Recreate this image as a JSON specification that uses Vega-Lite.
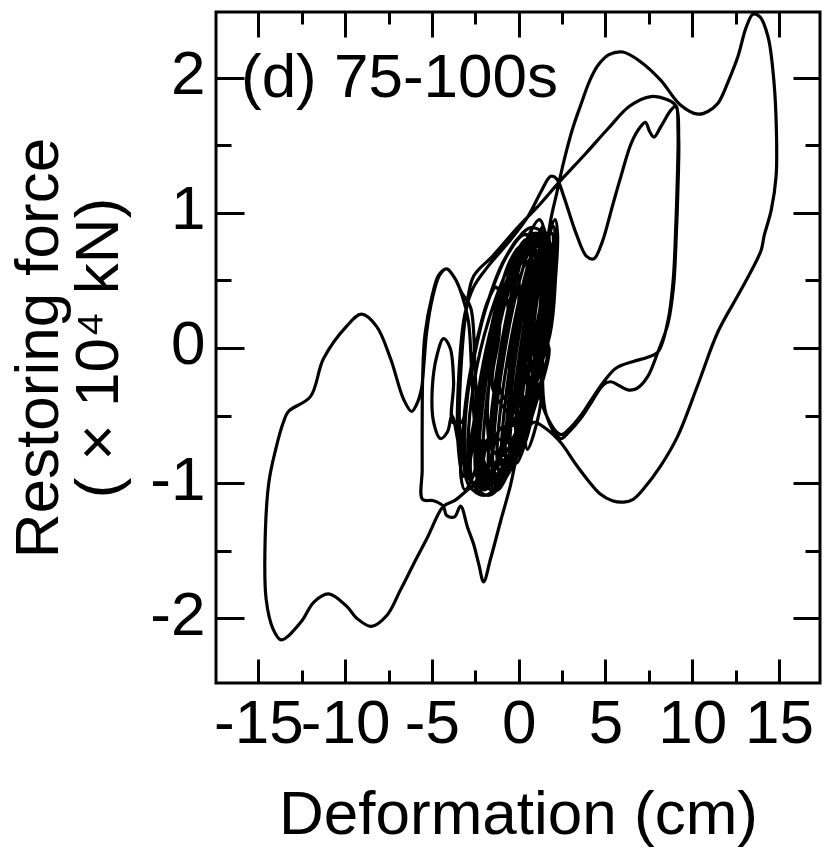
{
  "$schema": "https://vega.github.io/schema/vega-lite/v6.json",
  "width": 604,
  "height": 671,
  "autosize": {"type": "none"},
  "padding": {"left": 216, "top": 12, "right": 7, "bottom": 173},
  "background": "white",
  "config": {
    "view": {"stroke": "black", "strokeWidth": 3},
    "axis": {
      "grid": false, "domain": false, "tickColor": "black", "tickWidth": 3,
      "labelFont": "Liberation Sans", "labelFontSize": 62, "labelColor": "black",
      "titleFont": "Liberation Sans", "titleFontSize": 62, "titleFontWeight": "normal", "titleColor": "black",
      "labelOverlap": false, "labelFlush": false, "labelExpr": "'' + datum.value"
    }
  },
  "data": {
    "values": [
      {"x":1.1,"y":0},{"x":1.53,"y":0.43},{"x":1.72,"y":0.74},{"x":1.6,"y":0.85},{"x":1.22,"y":0.74},{"x":0.67,"y":0.43},{"x":0.1,"y":0},{"x":-0.33,"y":-0.43},{"x":-0.52,"y":-0.74},{"x":-0.4,"y":-0.85},{"x":-0.02,"y":-0.74},{"x":0.53,"y":-0.43},
      {"x":-0.5,"y":-0.2},{"x":-0.09,"y":0.2},{"x":0.02,"y":0.49},{"x":-0.2,"y":0.6},{"x":-0.68,"y":0.49},{"x":-1.31,"y":0.2},{"x":-1.9,"y":-0.2},{"x":-2.31,"y":-0.6},{"x":-2.42,"y":-0.89},{"x":-2.2,"y":-1.0},{"x":-1.72,"y":-0.89},{"x":-1.09,"y":-0.6},{"x":0.0,"y":-0.55},
      {"x":1.0,"y":-0.05},{"x":1.46,"y":0.4},{"x":1.6,"y":0.73},{"x":1.4,"y":0.85},{"x":0.9,"y":0.73},{"x":0.24,"y":0.4},{"x":-0.4,"y":-0.05},{"x":-0.86,"y":-0.5},{"x":-1.0,"y":-0.83},{"x":-0.8,"y":-0.95},{"x":-0.3,"y":-0.83},{"x":0.36,"y":-0.5},
      {"x":0.9,"y":-0.1},{"x":1.38,"y":0.38},{"x":1.49,"y":0.72},{"x":1.2,"y":0.85},{"x":0.59,"y":0.72},{"x":-0.18,"y":0.38},{"x":-0.9,"y":-0.1},{"x":-1.38,"y":-0.58},{"x":-1.49,"y":-0.92},{"x":-1.2,"y":-1.05},{"x":-0.59,"y":-0.92},{"x":0.18,"y":-0.58},
      {"x":-1.1,"y":-0.3},{"x":-0.73,"y":0.05},{"x":-0.62,"y":0.31},{"x":-0.8,"y":0.4},{"x":-1.22,"y":0.31},{"x":-1.77,"y":0.05},{"x":-2.3,"y":-0.3},{"x":-2.67,"y":-0.65},{"x":-2.78,"y":-0.91},{"x":-2.6,"y":-1.0},{"x":-2.18,"y":-0.91},{"x":-1.63,"y":-0.65},{"x":-0.6,"y":-0.7},{"x":0.5,"y":-0.35},
      {"x":1.2,"y":0.05},{"x":1.6,"y":0.45},{"x":1.78,"y":0.74},{"x":1.7,"y":0.85},{"x":1.38,"y":0.74},{"x":0.9,"y":0.45},{"x":0.4,"y":0.05},{"x":0.0,"y":-0.35},{"x":-0.18,"y":-0.64},{"x":-0.1,"y":-0.75},{"x":0.22,"y":-0.64},{"x":0.7,"y":-0.35},
      {"x":1.6,"y":0.41},{"x":1.33,"y":0.68},{"x":0.6,"y":0.74},{"x":-0.4,"y":0.58},{"x":-1.4,"y":0.23},{"x":-2.13,"y":-0.2},{"x":-2.4,"y":-0.61},{"x":-2.13,"y":-0.88},{"x":-1.4,"y":-0.94},{"x":-0.4,"y":-0.78},{"x":0.6,"y":-0.43},{"x":1.33,"y":0.0},
      {"x":1.6,"y":0.4},{"x":1.1,"y":0.75},{"x":0.0,"y":0.6},{"x":-1.3,"y":0.1},{"x":-2.5,"y":-0.5},{"x":-3.2,"y":-0.95},{"x":-3.5,"y":-0.7},{"x":-3.45,"y":-0.2},{"x":-3.1,"y":0.25},{"x":-2.6,"y":0.45},{"x":-1.79,"y":0.6},{"x":-0.6,"y":0.78},{"x":0.52,"y":0.97},{"x":1.3,"y":1.16},{"x":1.85,"y":1.27},{"x":2.2,"y":1.25},{"x":2.6,"y":1.12},{"x":3.3,"y":0.85},{"x":3.9,"y":0.68},{"x":4.33,"y":0.66},{"x":4.8,"y":0.78},{"x":5.4,"y":1.05},{"x":5.89,"y":1.27},{"x":6.5,"y":1.52},{"x":7.04,"y":1.64},{"x":7.3,"y":1.67},{"x":7.55,"y":1.6},{"x":7.79,"y":1.56},{"x":8.2,"y":1.64},{"x":8.77,"y":1.76},{"x":9.06,"y":1.79},{"x":9.18,"y":1.6},{"x":9.15,"y":1.3},{"x":9.05,"y":0.9},{"x":8.9,"y":0.5},{"x":8.6,"y":0.2},{"x":8.02,"y":-0.03},{"x":7.4,"y":-0.07},{"x":6.6,"y":-0.1},{"x":5.6,"y":-0.15},{"x":4.9,"y":-0.25},{"x":4.2,"y":-0.38},{"x":3.58,"y":-0.5},{"x":2.9,"y":-0.6},{"x":2.42,"y":-0.64},{"x":1.6,"y":-0.5},
      {"x":0.9,"y":-0.1},{"x":1.39,"y":0.38},{"x":1.43,"y":0.72},{"x":1.0,"y":0.85},{"x":0.23,"y":0.72},{"x":-0.69,"y":0.38},{"x":-1.5,"y":-0.1},{"x":-1.99,"y":-0.58},{"x":-2.03,"y":-0.92},{"x":-1.6,"y":-1.05},{"x":-0.83,"y":-0.92},{"x":0.09,"y":-0.58},
      {"x":0.1,"y":-0.1},{"x":0.58,"y":0.35},{"x":0.69,"y":0.68},{"x":0.4,"y":0.8},{"x":-0.21,"y":0.68},{"x":-0.98,"y":0.35},{"x":-1.7,"y":-0.1},{"x":-2.18,"y":-0.55},{"x":-2.29,"y":-0.88},{"x":-2.0,"y":-1.0},{"x":-1.39,"y":-0.88},{"x":-0.62,"y":-0.55},
      {"x":1.1,"y":0},{"x":1.47,"y":0.38},{"x":1.58,"y":0.65},{"x":1.4,"y":0.75},{"x":0.98,"y":0.65},{"x":0.43,"y":0.38},{"x":-0.1,"y":0},{"x":-0.47,"y":-0.38},{"x":-0.58,"y":-0.65},{"x":-0.4,"y":-0.75},{"x":0.02,"y":-0.65},{"x":0.57,"y":-0.38},
      {"x":1.9,"y":0.42},{"x":1.58,"y":0.72},{"x":0.7,"y":0.79},{"x":-0.5,"y":0.61},{"x":-1.7,"y":0.22},{"x":-2.58,"y":-0.26},{"x":-2.9,"y":-0.72},{"x":-2.58,"y":-1.02},{"x":-1.7,"y":-1.09},{"x":-0.5,"y":-0.91},{"x":0.7,"y":-0.52},{"x":1.58,"y":-0.04},
      {"x":0.7,"y":-0.15},{"x":1.23,"y":0.3},{"x":1.26,"y":0.63},{"x":0.8,"y":0.75},{"x":-0.04,"y":0.63},{"x":-1.03,"y":0.3},{"x":-1.9,"y":-0.15},{"x":-2.43,"y":-0.6},{"x":-2.46,"y":-0.93},{"x":-2.0,"y":-1.05},{"x":-1.16,"y":-0.93},{"x":-0.17,"y":-0.6},
      {"x":-1.5,"y":-0.3},{"x":-1.14,"y":0.08},{"x":-1.07,"y":0.35},{"x":-1.3,"y":0.45},{"x":-1.77,"y":0.35},{"x":-2.36,"y":0.08},{"x":-2.9,"y":-0.3},{"x":-3.26,"y":-0.68},{"x":-3.33,"y":-0.95},{"x":-3.1,"y":-1.05},{"x":-2.63,"y":-0.95},{"x":-2.04,"y":-0.68},{"x":-1.2,"y":-0.95},{"x":0.2,"y":-0.65},{"x":1.3,"y":-0.1},
      {"x":2.0,"y":0.45},{"x":1.3,"y":0.8},{"x":0.2,"y":0.75},{"x":-1.0,"y":0.3},{"x":-2.2,"y":-0.4},{"x":-3.0,"y":-0.9},{"x":-3.4,"y":-0.6},{"x":-3.3,"y":-0.1},{"x":-3.0,"y":0.3},{"x":-2.6,"y":0.53},{"x":-1.5,"y":0.68},{"x":0.0,"y":0.9},{"x":1.2,"y":1.06},{"x":2.42,"y":1.24},{"x":3.8,"y":1.43},{"x":5.13,"y":1.62},{"x":6.4,"y":1.79},{"x":7.62,"y":1.86},{"x":8.5,"y":1.84},{"x":9.06,"y":1.79},{"x":9.22,"y":1.55},{"x":9.18,"y":1.2},{"x":9.07,"y":0.8},{"x":8.92,"y":0.45},{"x":8.6,"y":0.18},{"x":8.02,"y":-0.03},{"x":7.44,"y":-0.21},{"x":6.8,"y":-0.3},{"x":6.29,"y":-0.31},{"x":5.8,"y":-0.28},{"x":5.31,"y":-0.25},{"x":4.9,"y":-0.27},{"x":4.2,"y":-0.4},{"x":3.58,"y":-0.52},{"x":2.9,"y":-0.62},{"x":2.42,"y":-0.67},{"x":1.6,"y":-0.5},
      {"x":1.4,"y":0},{"x":1.83,"y":0.43},{"x":2.02,"y":0.74},{"x":1.9,"y":0.85},{"x":1.52,"y":0.74},{"x":0.97,"y":0.43},{"x":0.4,"y":0},{"x":-0.03,"y":-0.43},{"x":-0.22,"y":-0.74},{"x":-0.1,"y":-0.85},{"x":0.28,"y":-0.74},{"x":0.83,"y":-0.43},
      {"x":0.3,"y":0},{"x":0.77,"y":0.43},{"x":0.95,"y":0.74},{"x":0.8,"y":0.85},{"x":0.35,"y":0.74},{"x":-0.27,"y":0.43},{"x":-0.9,"y":0},{"x":-1.37,"y":-0.43},{"x":-1.55,"y":-0.74},{"x":-1.4,"y":-0.85},{"x":-0.95,"y":-0.74},{"x":-0.33,"y":-0.43},
      {"x":1.0,"y":-0.05},{"x":1.49,"y":0.4},{"x":1.64,"y":0.73},{"x":1.4,"y":0.85},{"x":0.84,"y":0.73},{"x":0.11,"y":0.4},{"x":-0.6,"y":-0.05},{"x":-1.09,"y":-0.5},{"x":-1.24,"y":-0.83},{"x":-1.0,"y":-0.95},{"x":-0.44,"y":-0.83},{"x":0.29,"y":-0.5},
      {"x":2.0,"y":0.5},{"x":1.65,"y":0.82},{"x":0.7,"y":0.89},{"x":-0.6,"y":0.7},{"x":-1.9,"y":0.29},{"x":-2.85,"y":-0.22},{"x":-3.2,"y":-0.7},{"x":-2.85,"y":-1.02},{"x":-1.9,"y":-1.09},{"x":-0.6,"y":-0.9},{"x":0.7,"y":-0.49},{"x":1.65,"y":0.02},
      {"x":0.9,"y":-0.05},{"x":1.42,"y":0.45},{"x":1.53,"y":0.82},{"x":1.2,"y":0.95},{"x":0.53,"y":0.82},{"x":-0.32,"y":0.45},{"x":-1.1,"y":-0.05},{"x":-1.62,"y":-0.55},{"x":-1.73,"y":-0.92},{"x":-1.4,"y":-1.05},{"x":-0.73,"y":-0.92},{"x":0.12,"y":-0.55},
      {"x":1.8,"y":0.1},{"x":2.13,"y":0.53},{"x":2.24,"y":0.84},{"x":2.1,"y":0.95},{"x":1.74,"y":0.84},{"x":1.27,"y":0.53},{"x":0.8,"y":0.1},{"x":0.47,"y":-0.33},{"x":0.36,"y":-0.64},{"x":0.5,"y":-0.75},{"x":0.86,"y":-0.64},{"x":1.33,"y":-0.33},
      {"x":1.05,"y":0.05},{"x":1.4,"y":0.4},{"x":1.57,"y":0.66},{"x":1.5,"y":0.75},{"x":1.22,"y":0.66},{"x":0.8,"y":0.4},{"x":0.35,"y":0.05},{"x":0.0,"y":-0.3},{"x":-0.17,"y":-0.56},{"x":-0.1,"y":-0.65},{"x":0.18,"y":-0.56},{"x":0.6,"y":-0.3},
      {"x":1.75,"y":0.45},{"x":1.6,"y":0.7},{"x":1.85,"y":0.95},{"x":2.2,"y":1.15},{"x":2.6,"y":1.38},{"x":3.1,"y":1.62},{"x":3.58,"y":1.8},{"x":4.1,"y":1.98},{"x":4.56,"y":2.09},{"x":5.2,"y":2.17},{"x":6.0,"y":2.19},{"x":7.0,"y":2.12},{"x":8.19,"y":1.98},{"x":9.3,"y":1.8},{"x":10.33,"y":1.73},{"x":10.9,"y":1.75},{"x":11.48,"y":1.81},{"x":12.1,"y":1.98},{"x":12.64,"y":2.16},{"x":13.1,"y":2.37},{"x":13.5,"y":2.47},{"x":13.9,"y":2.45},{"x":14.37,"y":2.3},{"x":14.7,"y":1.98},{"x":14.85,"y":1.6},{"x":14.83,"y":1.27},{"x":14.55,"y":1.02},{"x":14.14,"y":0.83},{"x":13.96,"y":0.72},{"x":12.81,"y":0.43},{"x":11.48,"y":0.12},{"x":10.33,"y":-0.27},{"x":9.17,"y":-0.65},{"x":8.19,"y":-0.87},{"x":7.21,"y":-1.04},{"x":6.6,"y":-1.12},{"x":6.06,"y":-1.14},{"x":5.4,"y":-1.13},{"x":4.7,"y":-1.08},{"x":4.0,"y":-0.98},{"x":3.29,"y":-0.86},{"x":2.42,"y":-0.7},{"x":1.6,"y":-0.6},{"x":0.87,"y":-0.55},{"x":0.3,"y":-0.65},{"x":-0.06,"y":-0.78},{"x":-0.5,"y":-1.03},{"x":-1.04,"y":-1.28},{"x":-1.62,"y":-1.56},{"x":-2.02,"y":-1.73},{"x":-2.3,"y":-1.6},{"x":-2.6,"y":-1.45},{"x":-2.94,"y":-1.33},{"x":-3.35,"y":-1.17},{"x":-3.7,"y":-1.25},{"x":-4.15,"y":-1.24},{"x":-4.35,"y":-1.17},{"x":-4.9,"y":-1.13},{"x":-5.54,"y":-1.12},{"x":-5.56,"y":-0.9},{"x":-5.56,"y":-0.55},{"x":-5.53,"y":-0.2},{"x":-5.4,"y":0.1},{"x":-5.0,"y":0.38},{"x":-4.6,"y":0.54},{"x":-4.15,"y":0.585},{"x":-3.7,"y":0.52},{"x":-3.29,"y":0.41},{"x":-2.77,"y":0.3},{"x":-2.5,"y":-0.2},{"x":-2.2,"y":-0.75},{"x":-1.3,"y":-0.99},{"x":-0.2,"y":-0.82},{"x":0.9,"y":-0.45},{"x":1.71,"y":0.01},
      {"x":0.3,"y":-0.15},{"x":0.8,"y":0.28},{"x":0.88,"y":0.59},{"x":0.5,"y":0.7},{"x":-0.22,"y":0.59},{"x":-1.1,"y":0.28},{"x":-1.9,"y":-0.15},{"x":-2.4,"y":-0.58},{"x":-2.48,"y":-0.89},{"x":-2.1,"y":-1.0},{"x":-1.38,"y":-0.89},{"x":-0.5,"y":-0.58},
      {"x":0,"y":-0.15},{"x":0.42,"y":0.3},{"x":0.45,"y":0.63},{"x":0.1,"y":0.75},{"x":-0.55,"y":0.63},{"x":-1.32,"y":0.3},{"x":-2.0,"y":-0.15},{"x":-2.42,"y":-0.6},{"x":-2.45,"y":-0.93},{"x":-2.1,"y":-1.05},{"x":-1.45,"y":-0.93},{"x":-0.68,"y":-0.6},{"x":0.5,"y":-0.4},{"x":1.5,"y":0.0},
      {"x":2.0,"y":0.44},{"x":1.71,"y":0.73},{"x":0.9,"y":0.79},{"x":-0.2,"y":0.62},{"x":-1.3,"y":0.25},{"x":-2.11,"y":-0.21},{"x":-2.4,"y":-0.64},{"x":-2.11,"y":-0.93},{"x":-1.3,"y":-0.99},{"x":-0.2,"y":-0.82},{"x":0.9,"y":-0.45},{"x":1.71,"y":0.01},
      {"x":1.55,"y":0.1},{"x":1.94,"y":0.5},{"x":2.1,"y":0.79},{"x":2.0,"y":0.9},{"x":1.65,"y":0.79},{"x":1.16,"y":0.5},{"x":0.65,"y":0.1},{"x":0.26,"y":-0.3},{"x":0.1,"y":-0.59},{"x":0.2,"y":-0.7},{"x":0.55,"y":-0.59},{"x":1.04,"y":-0.3},
      {"x":0.5,"y":-0.35},{"x":-0.46,"y":-0.77},{"x":-1.7,"y":-0.92},{"x":-2.94,"y":-1.05},{"x":-3.7,"y":-1.13},{"x":-4.33,"y":-1.17},{"x":-5.25,"y":-1.4},{"x":-6.06,"y":-1.6},{"x":-6.81,"y":-1.79},{"x":-7.6,"y":-1.98},{"x":-8.48,"y":-2.06},{"x":-9.33,"y":-2.0},{"x":-9.92,"y":-1.91},{"x":-10.96,"y":-1.82},{"x":-11.8,"y":-1.88},{"x":-12.56,"y":-2.03},{"x":-13.68,"y":-2.16},{"x":-14.15,"y":-2.08},{"x":-14.55,"y":-1.86},{"x":-14.62,"y":-1.49},{"x":-14.4,"y":-1.0},{"x":-14.0,"y":-0.75},{"x":-13.56,"y":-0.55},{"x":-13.27,"y":-0.47},{"x":-12.0,"y":-0.36},{"x":-11.25,"y":-0.08},{"x":-9.92,"y":0.16},{"x":-9.06,"y":0.25},{"x":-8.19,"y":0.16},{"x":-7.38,"y":-0.08},{"x":-6.63,"y":-0.38},{"x":-6.17,"y":-0.47},{"x":-5.89,"y":-0.42},{"x":-5.6,"y":-0.3},{"x":-5.45,"y":-0.1},{"x":-5.3,"y":0.12},{"x":-4.95,"y":0.38},{"x":-4.55,"y":0.54},{"x":-4.15,"y":0.585},{"x":-3.7,"y":0.52},{"x":-3.29,"y":0.4},{"x":-2.9,"y":0.2},{"x":-2.7,"y":-0.2},{"x":-2.5,"y":-0.6},{"x":-1.9,"y":-0.95},{"x":-0.8,"y":-0.95},{"x":0.35,"y":-0.6},{"x":1.19,"y":-0.1},
      {"x":1.0,"y":0},{"x":1.42,"y":0.45},{"x":1.57,"y":0.78},{"x":1.4,"y":0.9},{"x":0.97,"y":0.78},{"x":0.38,"y":0.45},{"x":-0.2,"y":0},{"x":-0.62,"y":-0.45},{"x":-0.77,"y":-0.78},{"x":-0.6,"y":-0.9},{"x":-0.17,"y":-0.78},{"x":0.42,"y":-0.45},
      {"x":1.5,"y":0.47},{"x":1.19,"y":0.77},{"x":0.35,"y":0.84},{"x":-0.8,"y":0.66},{"x":-1.95,"y":0.27},{"x":-2.79,"y":-0.21},{"x":-3.1,"y":-0.67},{"x":-2.79,"y":-0.97},{"x":-1.95,"y":-1.04},{"x":-0.8,"y":-0.86},{"x":0.35,"y":-0.47},{"x":1.19,"y":0.01},
      {"x":1.5,"y":0.47},{"x":0.35,"y":0.84},{"x":-0.8,"y":0.66},{"x":-1.95,"y":0.27},{"x":-2.79,"y":-0.21},{"x":-3.3,"y":-0.55},{"x":-3.8,"y":-0.55},{"x":-3.75,"y":-0.25},{"x":-3.95,"y":0.0},{"x":-4.33,"y":0.07},{"x":-4.7,"y":-0.05},{"x":-4.98,"y":-0.3},{"x":-4.9,"y":-0.55},{"x":-4.5,"y":-0.67},{"x":-4.1,"y":-0.62},{"x":-3.85,"y":-0.5},{"x":-3.3,"y":-0.8},{"x":-2.6,"y":-1.0},{"x":-1.3,"y":-1.0},{"x":-0.2,"y":-0.75},{"x":0.7,"y":-0.3},{"x":1.6,"y":0.2},
      {"x":1.4,"y":0.4},{"x":1.19,"y":0.64},{"x":0.6,"y":0.7},{"x":-0.2,"y":0.55},{"x":-1.0,"y":0.25},{"x":-1.59,"y":-0.14},{"x":-1.8,"y":-0.5},{"x":-1.59,"y":-0.74},{"x":-1.0,"y":-0.8},{"x":-0.2,"y":-0.65},{"x":0.6,"y":-0.35},{"x":1.19,"y":0.04},
      {"x":1.5,"y":0.41},{"x":1.25,"y":0.68},{"x":0.55,"y":0.74},{"x":-0.4,"y":0.58},{"x":-1.35,"y":0.23},{"x":-2.05,"y":-0.2},{"x":-2.3,"y":-0.61},{"x":-2.05,"y":-0.88},{"x":-1.35,"y":-0.94},{"x":-0.4,"y":-0.78},{"x":0.55,"y":-0.43},{"x":1.25,"y":0.0}
    ]
  },
  "layer": [
    {
      "mark": {"type": "line", "color": "black", "strokeWidth": 3.2, "interpolate": "catmull-rom", "clip": true},
      "encoding": {
        "x": {"field": "x", "type": "quantitative", "scale": {"domain": [-17.44, 17.36], "nice": false, "zero": false},
              "axis": {"orient": "bottom", "values": [-15, -10, -5, 0, 5, 10, 15], "tickSize": -24, "labelPadding": 34, "title": "Deformation (cm)", "titlePadding": 30}},
        "y": {"field": "y", "type": "quantitative", "scale": {"domain": [-2.479, 2.486], "nice": false, "zero": false},
              "axis": {"orient": "left", "values": [-2, -1, 0, 1, 2], "tickSize": -28, "labelPadding": 39, "labelOffset": -3, "title": ["Restoring force", "( × 10⁴ kN)"], "titlePadding": 19, "titleLineHeight": 60}},
        "order": {"value": null}
      }
    },
    {
      "data": {"values": [{"x": 0, "y": 0}]},
      "mark": {"type": "point", "opacity": 0},
      "encoding": {
        "x": {"field": "x", "type": "quantitative", "scale": {"domain": [-17.44, 17.36], "nice": false, "zero": false},
              "axis": {"orient": "bottom", "values": [-12.5, -7.5, -2.5, 2.5, 7.5, 12.5], "tickSize": -13, "labels": false, "title": null}},
        "y": {"field": "y", "type": "quantitative", "scale": {"domain": [-2.479, 2.486], "nice": false, "zero": false},
              "axis": {"orient": "left", "values": [-1.5, -0.5, 0.5, 1.5], "tickSize": -15, "labels": false, "title": null}}
      }
    },
    {
      "data": {"values": [{"x": 0, "y": 0}]},
      "mark": {"type": "point", "opacity": 0},
      "encoding": {
        "x": {"field": "x", "type": "quantitative", "scale": {"domain": [-17.44, 17.36], "nice": false, "zero": false},
              "axis": {"orient": "top", "values": [-15, -10, -5, 0, 5, 10, 15], "tickSize": -25, "labels": false, "title": null}},
        "y": {"field": "y", "type": "quantitative", "scale": {"domain": [-2.479, 2.486], "nice": false, "zero": false},
              "axis": {"orient": "right", "values": [-2, -1, 0, 1, 2], "tickSize": -27, "labels": false, "title": null}}
      }
    },
    {
      "data": {"values": [{"x": 0, "y": 0}]},
      "mark": {"type": "point", "opacity": 0},
      "encoding": {
        "x": {"field": "x", "type": "quantitative", "scale": {"domain": [-17.44, 17.36], "nice": false, "zero": false},
              "axis": {"orient": "top", "values": [-12.5, -7.5, -2.5, 2.5, 7.5, 12.5], "tickSize": -12, "labels": false, "title": null}},
        "y": {"field": "y", "type": "quantitative", "scale": {"domain": [-2.479, 2.486], "nice": false, "zero": false},
              "axis": {"orient": "right", "values": [-1.5, -0.5, 0.5, 1.5], "tickSize": -15, "labels": false, "title": null}}
      }
    },
    {
      "data": {"values": [{"label": "(d) 75-100s"}]},
      "mark": {"type": "text", "font": "Liberation Sans", "fontSize": 62, "align": "left", "baseline": "alphabetic", "color": "black"},
      "encoding": {
        "x": {"datum": -16.0, "type": "quantitative", "axis": null},
        "y": {"datum": 1.857, "type": "quantitative", "axis": null},
        "text": {"field": "label"}
      }
    }
  ],
  "resolve": {"axis": {"x": "independent", "y": "independent"}}
}
